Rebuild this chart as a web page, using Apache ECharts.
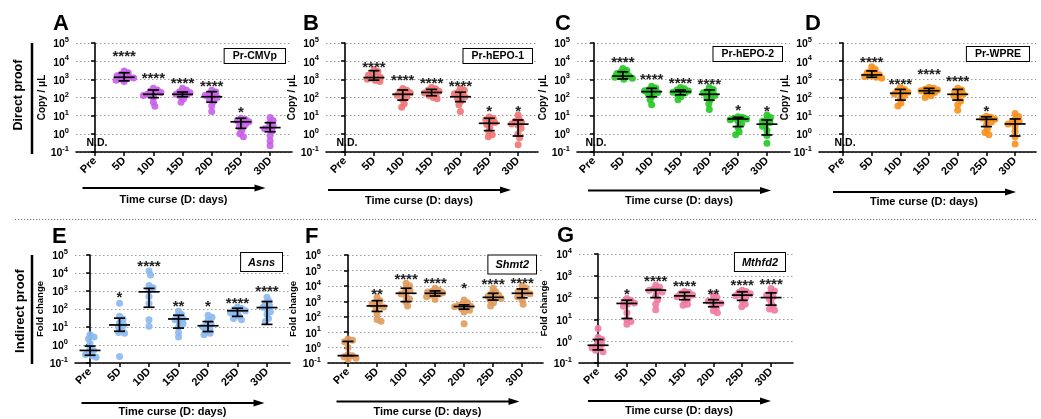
<!DOCTYPE html>
<html><head><meta charset="utf-8">
<script src="https://cdn.jsdelivr.net/npm/echarts@6/dist/echarts.min.js"></script>
<style>html,body{margin:0;padding:0;background:#fff}#c{width:1041px;height:419px}</style>
</head><body><div id="c"></div>
<script>
const FONT = '"Liberation Sans", Arial, sans-serif';
const categories = ['Pre', '5D', '10D', '15D', '20D', '25D', '30D'];
const expTop = [-1, 0, 1, 2, 3, 4, 5];
const expE = [-1, 0, 1, 2, 3, 4, 5];
const expF = [-1, 0, 1, 2, 3, 4, 5, 6];
const expG = [-1, 0, 1, 2, 3, 4];

// ---- Panel A : Pr-CMVp ----
const A_points = [[],
  [2900, 2300, 1900, 1600, 1400, 1300, 1200, 1050, 900, 750],
  [320, 260, 220, 190, 170, 150, 130, 100, 55, 33],
  [320, 250, 210, 180, 165, 150, 140, 120, 85, 55],
  [250, 200, 160, 135, 115, 100, 80, 60, 35, 17],
  [7.2, 6.2, 5.2, 4.6, 4.0, 3.3, 2.5, 1.6, 1.0, 0.7],
  [8, 5.5, 3.8, 2.8, 2.2, 1.9, 1.5, 0.8, 0.4, 0.22]];
const A_median = [null, 1300, 150, 150, 110, 4.6, 2.2];
const A_low = [null, 820, 98, 110, 55, 2.0, 1.3];
const A_high = [null, 2300, 260, 200, 210, 7.2, 4.1];
const A_sig = ['', '****', '****', '****', '****', '*', ''];
const A_sigAt = [null, 27000, 1650, 830, 570, 21, null];

// ---- Panel B : Pr-hEPO-1 ----
const B_points = [[],
  [3500, 2700, 2100, 1700, 1450, 1300, 1150, 1000, 850, 750],
  [310, 250, 210, 180, 155, 135, 110, 75, 45, 29],
  [360, 300, 250, 220, 195, 175, 155, 130, 100, 85],
  [320, 250, 200, 160, 130, 110, 90, 65, 40, 17],
  [8.5, 7.0, 6.0, 5.0, 4.2, 3.3, 2.2, 1.3, 0.9, 0.7],
  [11, 6.5, 5.0, 4.2, 3.5, 3.0, 2.0, 1.0, 0.6, 0.25]];
const B_median = [null, 1250, 150, 190, 110, 3.8, 3.4];
const B_low = [null, 900, 72, 125, 59, 1.5, 0.76];
const B_high = [null, 3000, 260, 280, 195, 7.2, 5.8];
const B_sig = ['', '****', '****', '****', '****', '*', '*'];
const B_sigAt = [null, 6300, 1350, 850, 600, 26, 26];

// ---- Panel C : Pr-hEPO-2 ----
const C_points = [[],
  [4000, 3100, 2500, 2100, 1800, 1600, 1450, 1300, 1150, 1000],
  [420, 330, 270, 235, 210, 190, 160, 120, 75, 40],
  [360, 300, 260, 230, 210, 195, 175, 150, 110, 75],
  [360, 280, 220, 180, 150, 130, 105, 75, 45, 22],
  [8.7, 8.0, 7.2, 6.6, 6.0, 5.0, 3.6, 2.2, 1.3, 0.9],
  [11, 8, 6, 5, 4.2, 3.5, 2.6, 1.6, 0.8, 0.3]];
const C_median = [null, 1500, 210, 210, 150, 6.6, 3.4];
const C_low = [null, 1050, 110, 140, 72, 2.5, 0.87];
const C_high = [null, 2600, 320, 260, 260, 8.1, 5.8];
const C_sig = ['', '****', '****', '****', '****', '*', '*'];
const C_sigAt = [null, 12500, 1400, 900, 800, 29, 26];

// ---- Panel D : Pr-WPRE ----
const D_points = [[],
  [5000, 3600, 2900, 2300, 2000, 1800, 1600, 1450, 1300, 1150],
  [360, 280, 235, 200, 175, 155, 125, 85, 50, 34],
  [360, 320, 285, 255, 235, 215, 190, 160, 125, 100],
  [320, 260, 210, 175, 150, 125, 95, 65, 40, 20],
  [9.3, 8.2, 7.2, 6.3, 5.5, 4.5, 3.2, 1.9, 1.2, 0.9],
  [13, 9, 6.3, 5, 4.2, 3.5, 2.6, 1.4, 0.7, 0.28]];
const D_median = [null, 1750, 170, 235, 150, 6.3, 3.5];
const D_low = [null, 1300, 72, 170, 72, 2.5, 0.76];
const D_high = [null, 2900, 280, 320, 280, 8.7, 6.6];
const D_sig = ['', '****', '****', '****', '****', '*', ''];
const D_sigAt = [null, 12500, 800, 2600, 1200, 25, null];

// ---- Panel E : Asns ----
const E_points = [
  [3.7, 2.8, 2.2, 1.2, 0.7, 0.5, 0.4, 0.3, 0.25, 0.21],
  [210, 40, 28, 17, 13, 10, 7, 5, 4.5, 0.23],
  [13000, 7800, 2000, 1500, 1100, 500, 200, 25, 11],
  [75, 50, 40, 30, 25, 20, 15, 10, 5, 2.8],
  [45, 35, 22, 15, 12, 10, 8, 6, 4.5, 3.7],
  [130, 105, 90, 80, 75, 62, 50, 40, 30, 25],
  [450, 280, 200, 160, 125, 100, 70, 50, 30, 20]];
const E_median = [0.5, 13, 900, 28, 11.7, 80, 120];
const E_low = [0.27, 5.8, 125, 8.7, 5.6, 39, 14];
const E_high = [0.87, 31, 1400, 45, 20, 110, 260];
const E_sig = ['', '*', '****', '**', '*', '****', '****'];
const E_sigAt = [null, 620, 35000, 210, 195, 300, 1400];

// ---- Panel F : Shmt2 ----
const F_points = [
  [3.6, 3.0, 2.4, 1.0, 0.35, 0.3, 0.25, 0.2, 0.17],
  [1800, 1100, 850, 650, 520, 430, 320, 150, 65, 50],
  [15000, 10000, 7000, 5000, 3800, 3000, 2000, 1400, 900, 500],
  [7000, 5200, 4500, 4000, 3600, 3300, 3000, 2600, 2000, 1300],
  [1200, 800, 650, 560, 490, 450, 400, 340, 260, 200, 35],
  [7000, 4200, 3200, 2600, 2100, 1800, 1500, 1200, 800, 500],
  [10000, 7200, 5300, 4200, 3600, 3100, 2600, 2000, 1200, 650]];
const F_median = [0.3, 500, 3300, 3300, 460, 1800, 3300];
const F_low = [0.3, 220, 950, 2200, 310, 1200, 1700];
const F_high = [2.5, 1100, 7000, 4700, 590, 3300, 6300];
const F_sig = ['', '**', '****', '****', '*', '****', '****'];
const F_sigAt = [null, 4300, 44000, 22000, 11500, 21000, 22000];

// ---- Panel G : Mthfd2 ----
const G_points = [
  [3.8, 1.5, 1.2, 0.9, 0.7, 0.6, 0.5, 0.45, 0.38, 0.33],
  [90, 75, 65, 57, 50, 40, 20, 10, 8, 6],
  [370, 300, 250, 220, 200, 180, 120, 80, 50, 28],
  [190, 170, 150, 130, 120, 110, 90, 70, 50, 45],
  [130, 100, 80, 70, 60, 55, 45, 35, 25, 20],
  [220, 190, 170, 150, 130, 120, 100, 70, 50, 38],
  [260, 200, 160, 130, 110, 90, 60, 40, 30, 26]];
const G_median = [0.65, 54, 220, 120, 58, 130, 100];
const G_low = [0.4, 11, 100, 80, 38, 75, 45];
const G_high = [1.2, 76, 235, 175, 80, 185, 165];
const G_sig = ['', '*', '****', '****', '**', '****', '****'];
const G_sigAt = [null, 185, 760, 450, 200, 500, 540];

// ---- layout (pixels) ----
const panels = [
  {key:'A', label:'Pr-CMVp', italic:false, color:'#c85ee8', pts:A_points, med:A_median, low:A_low, high:A_high, sig:A_sig, sigAt:A_sigAt, exps:expTop, nd:true, yName:'Copy / μL',
   left:76, top:43, w:216, h:109, xmin:-0.65, xmax:6.75, nameGap:26, letter:[53,24], box:[285,49], arrow:[173.5,188], textY:200},
  {key:'B', label:'Pr-hEPO-1', italic:false, color:'#f07474', pts:B_points, med:B_median, low:B_low, high:B_high, sig:B_sig, sigAt:B_sigAt, exps:expTop, nd:true, yName:'Copy / μL',
   left:326, top:43, w:212, h:109, xmin:-0.66, xmax:6.69, nameGap:25, letter:[303,24], box:[532,49], arrow:[419,190], textY:201},
  {key:'C', label:'Pr-hEPO-2', italic:false, color:'#22c822', pts:C_points, med:C_median, low:C_low, high:C_high, sig:C_sig, sigAt:C_sigAt, exps:expTop, nd:true, yName:'Copy / μL',
   left:577, top:43, w:213, h:109, xmin:-0.59, xmax:6.80, nameGap:24, letter:[555,24], box:[782,47], arrow:[679,190.5], textY:201},
  {key:'D', label:'Pr-WPRE', italic:false, color:'#f7901c', pts:D_points, med:D_median, low:D_low, high:D_high, sig:D_sig, sigAt:D_sigAt, exps:expTop, nd:true, yName:'Copy / μL',
   left:819, top:43, w:217, h:109, xmin:-0.84, xmax:6.73, nameGap:17, letter:[805,24], box:[1029,47], arrow:[924,192], textY:202},
  {key:'E', label:'Asns', italic:true, color:'#88b8ee', pts:E_points, med:E_median, low:E_low, high:E_high, sig:E_sig, sigAt:E_sigAt, exps:expE, nd:false, yName:'Fold change',
   left:75, top:255, w:215, h:108, xmin:-0.51, xmax:6.78, nameGap:27, letter:[52,237], box:[282,253], arrow:[172.5,403], textY:411.5},
  {key:'F', label:'Shmt2', italic:true, color:'#e09a5c', pts:F_points, med:F_median, low:F_low, high:F_high, sig:F_sig, sigAt:F_sigAt, exps:expF, nd:false, yName:'Fold change',
   left:328, top:255, w:215, h:108, xmin:-0.69, xmax:6.72, nameGap:24, letter:[305,237], box:[536,255.5], arrow:[427.5,401.5], textY:411.5},
  {key:'G', label:'Mthfd2', italic:true, color:'#f07aa2', pts:G_points, med:G_median, low:G_low, high:G_high, sig:G_sig, sigAt:G_sigAt, exps:expG, nd:false, yName:'Fold change',
   left:579, top:254, w:214, h:109, xmin:-0.66, xmax:6.76, nameGap:23, letter:[557,236], box:[785,253], arrow:[679,401], textY:411}
];

// beeswarm horizontal offsets (pixel space -> axis units), limited half-width
function swarm(vals, ppd, unitPx, minDist, maxOff) {
  const items = vals.map((v, i) => ({ y: -Math.log10(v) * ppd, i }));
  items.sort((a, b) => a.y - b.y);
  const placed = [], out = new Array(vals.length);
  for (const it of items) {
    let best = null, bestOverlap = Infinity, bestCand = 0;
    for (let k = 0; k < 400; k++) {
      const cand = (k % 2 === 1 ? 1 : -1) * Math.ceil(k / 2) * 0.5;
      if (Math.abs(cand) > maxOff) break;
      let worst = 0;
      for (const p of placed) {
        const dx = p.x - cand, dy = p.y - it.y;
        const d = Math.sqrt(dx * dx + dy * dy);
        if (d < minDist) worst = Math.max(worst, minDist - d);
      }
      if (worst === 0) { best = cand; break; }
      if (worst < bestOverlap) { bestOverlap = worst; bestCand = cand; }
    }
    if (best === null) best = bestCand;
    placed.push({ x: best, y: it.y });
    out[it.i] = best / unitPx;
  }
  return out;
}

const grids = [], xAxes = [], yAxes = [], series = [], graphics = [];
const idx = [0, 1, 2, 3, 4, 5, 6];

panels.forEach((p, pi) => {
  grids.push({ left: p.left, top: p.top, width: p.w, height: p.h, containLabel: false });
  xAxes.push({
    type: 'value', gridIndex: pi, min: p.xmin, max: p.xmax,
    axisLine: { show: true, lineStyle: { color: '#000', width: 1.6 } },
    axisTick: { show: true, customValues: idx, length: 4, lineStyle: { color: '#000', width: 1.5 } },
    axisLabel: { customValues: idx, formatter: v => categories[Math.round(v)], rotate: 45, margin: 7,
      fontSize: 11, fontWeight: 'bold', color: '#000', fontFamily: FONT },
    splitLine: { show: false }
  });
  const lo = Math.pow(10, p.exps[0]), hi = Math.pow(10, p.exps[p.exps.length - 1]);
  yAxes.push({
    type: 'log', logBase: 10, gridIndex: pi, min: lo, max: hi, splitNumber: p.exps.length - 1,
    axisLine: { show: true, lineStyle: { color: '#000', width: 1.6 } },
    axisTick: { show: true, length: 4, lineStyle: { color: '#000', width: 1.5 } },
    minorTick: { show: false },
    splitLine: { show: true, lineStyle: { color: '#9a9a9a', width: 1, type: [1.5, 2.5] } },
    name: p.yName, nameLocation: 'middle', nameGap: p.nameGap,
    nameTextStyle: { fontSize: p.nd ? 10 : 9.5, fontWeight: 'bold', color: '#000', fontFamily: FONT },
    axisLabel: {
      margin: 7,
      formatter: v => '{b|10}{s|' + Math.round(Math.log10(v)) + '}',
      rich: {
        b: { fontSize: 10.5, fontWeight: 'bold', color: '#000', fontFamily: FONT, verticalAlign: 'bottom', padding: [3, 0, 0, 0] },
        s: { fontSize: 7.5, fontWeight: 'bold', color: '#000', fontFamily: FONT, verticalAlign: 'top' }
      }
    }
  });

  const ppd = p.h / (p.exps.length - 1);
  const unitPx = p.w / (p.xmax - p.xmin);
  const pts = [];
  p.pts.forEach((vals, gi) => {
    if (!vals.length) return;
    const off = swarm(vals, ppd, unitPx, 4.2, 10);
    vals.forEach((v, k) => pts.push([gi + off[k], v]));
  });
  series.push({
    type: 'scatter', xAxisIndex: pi, yAxisIndex: pi, data: pts, symbolSize: 7, z: 2,
    itemStyle: { color: p.color, opacity: 0.9 }, silent: true
  });

  const eb = [];
  p.med.forEach((m, gi) => { if (m != null) eb.push([gi, m, p.low[gi], p.high[gi]]); });
  series.push({
    type: 'custom', xAxisIndex: pi, yAxisIndex: pi, data: eb, z: 3, silent: true,
    renderItem: (params, api) => {
      const x = api.value(0);
      const pm = api.coord([x, api.value(1)]);
      const pl = api.coord([x, api.value(2)]);
      const ph = api.coord([x, api.value(3)]);
      const st = { stroke: '#000', lineWidth: 1.7 };
      return { type: 'group', children: [
        { type: 'line', shape: { x1: pm[0], y1: ph[1], x2: pm[0], y2: pl[1] }, style: st },
        { type: 'line', shape: { x1: pm[0] - 5.5, y1: ph[1], x2: pm[0] + 5.5, y2: ph[1] }, style: st },
        { type: 'line', shape: { x1: pm[0] - 5.5, y1: pl[1], x2: pm[0] + 5.5, y2: pl[1] }, style: st },
        { type: 'line', shape: { x1: pm[0] - 10.5, y1: pm[1], x2: pm[0] + 10.5, y2: pm[1] }, style: st }
      ] };
    }
  });

  const sd = [], sl = [];
  p.sigAt.forEach((s, gi) => { if (s != null && p.sig[gi]) { sd.push([gi, s]); sl.push(p.sig[gi]); } });
  series.push({
    type: 'custom', xAxisIndex: pi, yAxisIndex: pi, data: sd, z: 4, silent: true,
    renderItem: (params, api) => {
      const c = api.coord([api.value(0), api.value(1)]);
      return { type: 'text', style: { text: sl[params.dataIndex], x: c[0], y: c[1] + 3.5,
        font: 'bold 15px ' + FONT, fill: '#222', align: 'center', verticalAlign: 'middle',
        textAlign: 'center', textVerticalAlign: 'middle' } };
    }
  });

  if (p.nd) {
    series.push({
      type: 'custom', xAxisIndex: pi, yAxisIndex: pi, data: [[0, lo]], z: 4, silent: true,
      renderItem: (params, api) => {
        const c = api.coord([api.value(0), api.value(1)]);
        return { type: 'text', style: { text: 'N.D.', x: c[0] + 2, y: c[1] - 9,
          font: 'bold 10.5px ' + FONT, fill: '#000', align: 'center', verticalAlign: 'middle',
          textAlign: 'center', textVerticalAlign: 'middle' } };
      }
    });
  }

  graphics.push({ type: 'text', x: p.letter[0], y: p.letter[1], z: 100,
    style: { text: p.key, font: 'bold 22px ' + FONT, fill: '#000', align: 'left', verticalAlign: 'middle', textAlign: 'left', textVerticalAlign: 'middle' } });
  graphics.push({ type: 'text', x: p.box[0], y: p.box[1], z: 100,
    style: { text: p.label, font: (p.italic ? 'italic bold 11px ' : 'bold 10.5px ') + FONT, fill: '#000',
      align: 'right', verticalAlign: 'top', textAlign: 'right', textVerticalAlign: 'top',
      backgroundColor: '#fff', borderColor: '#000', borderWidth: 1,
      padding: p.italic ? [4, 7, 3, 7] : [2, 8, 1, 8] } });
  const ax = p.arrow[0], ay = p.arrow[1];
  graphics.push({ type: 'line', z: 100, shape: { x1: ax - 91, y1: ay, x2: ax + 84, y2: ay }, style: { stroke: '#000', lineWidth: 2 } });
  graphics.push({ type: 'polygon', z: 100, shape: { points: [[ax + 92, ay], [ax + 81, ay - 3.5], [ax + 81, ay + 3.5]] }, style: { fill: '#000' } });
  graphics.push({ type: 'text', x: ax, y: p.textY, z: 100,
    style: { text: 'Time curse (D: days)', font: 'bold 11px ' + FONT, fill: '#000', align: 'center', verticalAlign: 'middle', textAlign: 'center', textVerticalAlign: 'middle' } });
});

graphics.push({ type: 'text', x: 19, y: 95, rotation: Math.PI / 2, z: 100,
  style: { text: 'Direct proof', font: 'bold 12.5px ' + FONT, fill: '#000', align: 'center', verticalAlign: 'middle', textAlign: 'center', textVerticalAlign: 'middle' } });
graphics.push({ type: 'line', z: 100, shape: { x1: 32, y1: 43, x2: 32, y2: 154 }, style: { stroke: '#000', lineWidth: 2.5 } });
graphics.push({ type: 'text', x: 20, y: 311, rotation: Math.PI / 2, z: 100,
  style: { text: 'Indirect proof', font: 'bold 13px ' + FONT, fill: '#000', align: 'center', verticalAlign: 'middle', textAlign: 'center', textVerticalAlign: 'middle' } });
graphics.push({ type: 'line', z: 100, shape: { x1: 32, y1: 255, x2: 32, y2: 364 }, style: { stroke: '#000', lineWidth: 2.5 } });
graphics.push({ type: 'line', z: 100, shape: { x1: 15, y1: 219.5, x2: 1036, y2: 219.5 }, style: { stroke: '#777', lineWidth: 1, lineDash: [1.2, 1.8] } });

const chart = echarts.init(document.getElementById('c'), null, { renderer: 'canvas' });
chart.setOption({
  animation: false,
  backgroundColor: '#fff',
  textStyle: { fontFamily: FONT },
  grid: grids, xAxis: xAxes, yAxis: yAxes, series: series, graphic: graphics
});
</script>
</body></html>
